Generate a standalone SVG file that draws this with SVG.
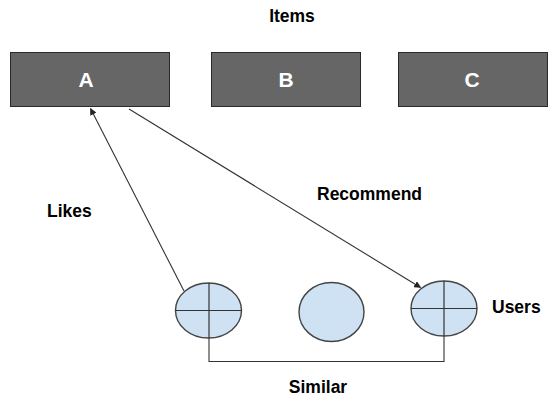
<svg xmlns="http://www.w3.org/2000/svg" width="551" height="399" viewBox="0 0 551 399">
  <style>
    .label { font-family: "Liberation Sans", Arial, sans-serif; font-weight: bold; font-size: 17.5px; fill: #000; }
    .item rect { fill: #666666; stroke: #2a2a2a; stroke-width: 1; }
    .item text { font-family: "Liberation Sans", Arial, sans-serif; font-weight: bold; font-size: 21px; fill: #fff; text-anchor: middle; }
    .user ellipse { fill: #cfe2f3; stroke: #444; stroke-width: 1.4; }
    .user line { stroke: #333; stroke-width: 1.2; }
    .conn { fill: none; stroke: #333; stroke-width: 1.1; }
  </style>
  <defs>
    <marker id="arrow" viewBox="0 0 10 10" refX="9" refY="5" markerWidth="7" markerHeight="7" orient="auto" markerUnits="userSpaceOnUse">
      <path d="M0,0 L10,5 L0,10 z" fill="#222"/>
    </marker>
  </defs>

  <!-- headings -->
  <text class="label" x="292" y="22" text-anchor="middle">Items</text>
  <text class="label" x="47" y="217">Likes</text>
  <text class="label" x="317" y="200">Recommend</text>
  <text class="label" x="492" y="313">Users</text>
  <text class="label" x="318" y="393" text-anchor="middle">Similar</text>

  <!-- item boxes -->
  <g id="item-a" class="item">
    <rect x="10.5" y="52.5" width="159" height="54"/>
    <text x="86" y="87">A</text>
  </g>
  <g id="item-b" class="item">
    <rect x="211.5" y="52.5" width="149" height="54"/>
    <text x="286" y="87">B</text>
  </g>
  <g id="item-c" class="item">
    <rect x="398.5" y="52.5" width="149" height="54"/>
    <text x="472" y="87">C</text>
  </g>

  <!-- connectors -->
  <g id="connectors">
    <line class="conn" x1="184" y1="291" x2="90.5" y2="108.5" marker-end="url(#arrow)"/>
    <line class="conn" x1="129" y1="109" x2="420.5" y2="287.5" marker-end="url(#arrow)"/>
    <polyline class="conn" points="209,338 209,361.5 444,361.5 444,336"/>
  </g>

  <!-- users -->
  <g id="user-1" class="user">
    <ellipse cx="208.5" cy="310.5" rx="33" ry="27.5"/>
    <line x1="209" y1="283" x2="209" y2="338"/>
    <line x1="175.5" y1="310.5" x2="241.5" y2="310.5"/>
  </g>
  <g id="user-2" class="user">
    <ellipse cx="331.5" cy="312" rx="32.5" ry="29.5"/>
  </g>
  <g id="user-3" class="user">
    <ellipse cx="444" cy="308.5" rx="33" ry="27.5"/>
    <line x1="444" y1="281" x2="444" y2="336"/>
    <line x1="411" y1="308.5" x2="477" y2="308.5"/>
  </g>
</svg>
